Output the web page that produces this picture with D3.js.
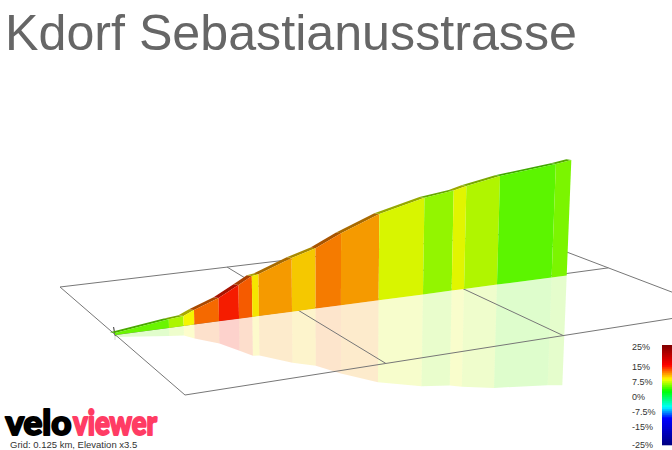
<!DOCTYPE html>
<html><head><meta charset="utf-8">
<script src="https://cdn.jsdelivr.net/npm/d3@7"></script>
<style>html,body{margin:0;padding:0;background:#fff;overflow:hidden}svg{display:block}text{font-family:"Liberation Sans",Arial,sans-serif}</style>
</head><body><svg id="c" width="672" height="450"></svg>
<script>
const title = "Kdorf Sebastianusstrasse";
const caption = "Grid: 0.125 km, Elevation x3.5";
const distanceKm = [0,.0365,.0464,.0536,.0703,.0838,.0928,.0973,.1196,.1370,.1564,.1853,.2193,.2413,.2509,.2793,.3264,.3394];
const elevationM = [.4,1.72,2.0,2.92,4.66,6.74,8.18,8.34,10.74,12.06,14.38,17.26,19.34,20.0,20.6,21.74,22.7,23.1];
const gradientPct = [4.6,6.2,8,12,14.2,12.4,8.4,10.6,9.3,11.5,10.6,7.3,5.6,7.5,6.3,4.25,5];
const gridKm = [0,.125,.25,.375];
const gridAcrossKm = [0,.125,.25];
const legendTicks = [25,15,7.5,0,-7.5,-15,-25];

const svg = d3.select("#c");

// Perspective scales along the route
const xKm = d3.scaleLinear().domain(gridKm).range([115,300,463,608]);
const yKm = d3.scaleLinear().domain(gridKm).range([335,310.6,289.1,270]);
const hM = d3.scaleLinear().domain([0,1]).range([0,5]);
const lean = d3.scaleLinear().domain([331,566.7]).range([0,.04]);
const mirror = .95;
const roadDx = -5, roadDy = -.7;

const gradColor = d3.scaleLinear()
  .domain([-25,-15,-11.5,-6,2,8,15,25])
  .range(["#000080","#0000e0","#0000ff","#00ffff","#00ff00","#ffff00","#ff0000","#800000"]);
const shade = (c,k)=>{const r=d3.rgb(c);return d3.rgb(r.r*k,r.g*k,r.b*k).formatHex();};

// Ground grid (homography from grid km to the page)
const quad = [[185,395],[721,310.8],[516,232.7],[60,287]];
const [p0,p1,p2,p3] = quad;
const dx1=p1[0]-p2[0],dx2=p3[0]-p2[0],sx=p0[0]-p1[0]+p2[0]-p3[0];
const dy1=p1[1]-p2[1],dy2=p3[1]-p2[1],sy=p0[1]-p1[1]+p2[1]-p3[1];
const den=dx1*dy2-dx2*dy1;
const g=(sx*dy2-dx2*sy)/den,h=(dx1*sy-sx*dy1)/den;
const a=p1[0]-p0[0]+g*p1[0],b=p3[0]-p0[0]+h*p3[0],d=p1[1]-p0[1]+g*p1[1],e=p3[1]-p0[1]+h*p3[1];
const uS=d3.scaleLinear().domain([0,.375]).range([0,1]), vS=d3.scaleLinear().domain([0,.25]).range([0,1]);
const ground=(km,ac)=>{const u=uS(km),v=vS(ac),w=g*u+h*v+1;return [(a*u+b*v+p0[0])/w,(d*u+e*v+p0[1])/w];};

const base = i=>[xKm(distanceKm[i]),yKm(distanceKm[i])];
const top_ = i=>{const [x,y]=base(i),t=hM(elevationM[i]);return [x+lean(x)*t,y-t];};
const low = i=>{const [x,y]=base(i),t=hM(elevationM[i])*mirror;return [x-lean(x)*t,y+t];};
const back = i=>{const [x,y]=top_(i);return [x+roadDx,y+roadDy];};
const poly = pts=>"M"+pts.map(p=>p.join(",")).join("L")+"Z";
const bands = d3.range(gradientPct.length);

// Reflection
svg.append("g").selectAll("path").data(bands).join("path")
  .attr("d",i=>poly([base(i),base(i+1),low(i+1),low(i)]))
  .attr("fill",i=>shade(gradColor(gradientPct[i]),.96)).attr("opacity",.2);

// Grid
const line=d3.line();
const gridG=svg.append("g").attr("fill","none").attr("stroke","#777").attr("stroke-width",1);
gridKm.forEach(k=>gridG.append("path").attr("d",line([ground(k,0),ground(k,.25)])));
gridAcrossKm.forEach(v=>gridG.append("path").attr("d",line([ground(0,v),ground(.375,v)])));

// Start post
svg.append("path").attr("d",line([[base(0)[0]-1.5,base(0)[1]-hM(1.6)],[base(0)[0]+.3,base(0)[1]+1]])).attr("stroke","#555").attr("stroke-width",1.2);
svg.append("path").attr("d",line([[base(0)[0],base(0)[1]+1],[base(0)[0],base(0)[1]+hM(1)]])).attr("stroke","#ddd").attr("stroke-width",1.2);

// Road surface strip then walls
svg.append("g").selectAll("path").data(bands).join("path")
  .attr("d",i=>poly([top_(i),top_(i+1),back(i+1),back(i)]))
  .attr("fill",i=>shade(gradColor(gradientPct[i]),.66));
svg.append("g").selectAll("path").data(bands).join("path")
  .attr("d",i=>poly([base(i),base(i+1),top_(i+1),top_(i)]))
  .attr("fill",i=>shade(gradColor(gradientPct[i]),.96));

// Title
svg.append("text").attr("x",5).attr("y",50).attr("font-size",50.2).attr("fill","#666").text(title);

// Legend
const yLeg=d3.scaleLinear().domain([25,-25]).range([345,445]);
svg.append("g").selectAll("rect").data(d3.range(-25,25,1)).join("rect")
  .attr("x",662).attr("width",10).attr("y",v=>yLeg(v+1)).attr("height",v=>yLeg(v)-yLeg(v+1)+.3)
  .attr("fill",v=>gradColor(v+.5));
svg.append("g").selectAll("text").data(legendTicks).join("text")
  .attr("x",632).attr("y",v=>yLeg(v)+(v===-25?3.2:5)).attr("font-size",9).attr("fill","#333")
  .text(v=>v+"%");

// Logo and caption
const logoText=(txt,x,len,col)=>svg.append("text").attr("x",x).attr("y",435).attr("textLength",len)
  .attr("lengthAdjust","spacingAndGlyphs").attr("font-size",34).attr("font-weight",900)
  .attr("fill",col).attr("stroke",col).attr("stroke-width",2).attr("stroke-linejoin","round")
  .style("font-family","Lato").text(txt);
logoText("velo",5.5,66,"#000");
logoText("viewer",73,84,"#ff3c64");
svg.append("text").attr("x",10).attr("y",448).attr("font-size",9.5).attr("fill","#333").text(caption);
</script></body></html>
